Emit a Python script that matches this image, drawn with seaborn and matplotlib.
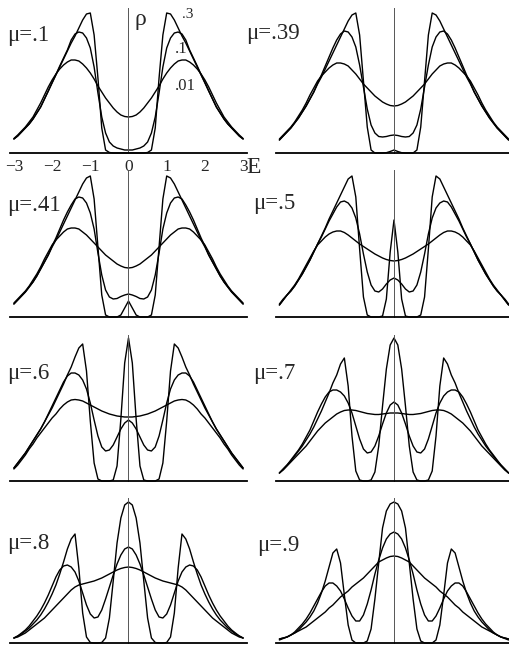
import numpy as np
import pandas as pd
import matplotlib
matplotlib.use("Agg")
import matplotlib.pyplot as plt
import seaborn as sns

sns.set_style("white")
plt.rcParams["font.family"] = ["Liberation Serif", "DejaVu Serif"]

# Energy grid for the half range E >= 0 (curves are symmetric in E)
E_half = [0.0, 0.1, 0.2, 0.3, 0.4, 0.5, 0.6, 0.7, 0.8, 0.9, 1.0,
          1.1, 1.2, 1.3, 1.4, 1.5, 1.6, 1.7, 1.8, 1.9, 2.0,
          2.1, 2.2, 2.3, 2.4, 2.5, 2.6, 2.7, 2.8, 2.9, 3.0]

mu_labels = [".1", ".39", ".41", ".5", ".6", ".7", ".8", ".9"]
curve_labels = [".3", ".1", ".01"]

# density of states rho(E) (arbitrary units), one list per mu and curve
rho_mu010_p3 = [0, 0, 0, 0, 0, 0.5, 3, 25, 75, 118, 140, 139, 133, 125, 117, 110, 102, 94, 86, 78, 70, 62, 54, 46, 40, 34, 29, 25, 21, 17, 14]
rho_mu010_p1 = [3, 3, 4, 5, 7, 11, 20, 36, 60, 86, 105, 115, 120, 121, 119, 113, 103, 95, 87, 78.5, 70.5, 62, 54, 46, 40, 34, 29, 25, 21, 17, 14]
rho_mu010_p01 = [36, 36.5, 38, 41, 45, 50, 55, 61, 67, 74, 80, 85, 89, 92, 93, 93, 91, 88, 84, 79, 73, 66, 58, 50, 43, 36, 31, 26, 22, 18, 14.5]

rho_mu039_p3 = [3, 1.5, 0.3, 0, 0, 0, 3, 26, 72, 118, 140, 138, 132, 124, 116, 108, 100, 92, 84, 76, 69, 61, 54, 47, 41, 35, 30, 25, 21, 17, 13]
rho_mu039_p1 = [18, 17.5, 16.5, 16, 16.5, 20, 28, 44, 66, 88, 106, 116, 121, 122, 119, 113, 105, 96, 87, 78, 70, 61, 54, 47, 41, 35, 30, 25, 21, 17, 13]
rho_mu039_p01 = [47, 47.5, 49, 51, 54, 57, 61, 65, 69, 74, 79, 83, 87, 89, 90, 90, 88, 85, 81, 77, 72, 65, 58, 50, 43, 37, 31, 26, 22, 18, 14]

rho_mu041_p3 = [16, 9, 2, 0, 0, 0, 2, 22, 70, 118, 141, 139, 133, 125, 117, 109, 101, 93, 85, 77, 70, 62, 55, 48, 41, 35, 30, 25, 21, 17, 13]
rho_mu041_p1 = [23, 22, 20.5, 18.5, 18, 20, 27, 42, 64, 88, 104, 114, 119, 120, 118, 112, 105, 97, 88, 79, 71, 62, 55, 48, 41, 35, 30, 25, 21, 17, 13]
rho_mu041_p01 = [49, 49.5, 51, 53, 56, 59, 62, 66, 70, 74, 78, 82, 85, 88, 89, 89, 88, 85, 81, 77, 72, 65, 58, 50, 43, 37, 31, 26, 22, 18, 14]

rho_mu050_p3 = [97, 65, 18, 1, 0, 0, 0, 2, 20, 68, 120, 141, 138, 130, 122, 114, 106, 98, 89, 81, 73, 65, 57, 50, 43, 37, 31, 26, 22, 17, 12]
rho_mu050_p1 = [39, 37, 33, 28, 25, 26, 32, 45, 63, 83, 99, 109, 114, 116, 115, 110, 103, 96, 88, 80, 73, 65, 57, 50, 43, 37, 31, 26, 22, 17, 12]
rho_mu050_p01 = [56, 56.5, 57.5, 59, 61, 63, 65.5, 68, 70.5, 73, 76, 79, 82, 84.5, 86, 86, 85, 83, 80, 76, 72, 66, 59, 52, 45, 38, 32, 27, 22, 18, 13]

rho_mu060_p3 = [143, 118, 62, 15, 1, 0, 0, 0, 2, 18, 60, 110, 137, 133, 124, 114, 106, 97, 89, 81, 73, 66, 59, 52, 46, 40, 34, 28, 23, 18, 13]
rho_mu060_p1 = [61, 58, 52, 44, 36, 31, 30, 34, 45, 61, 78, 92, 101, 106, 108, 108, 105, 99, 91, 83, 75, 67, 59, 52, 46, 40, 34, 28, 23, 18, 13]
rho_mu060_p01 = [64, 64, 64.5, 65, 66, 67, 68.5, 70, 72, 74, 76, 78, 80, 81, 81.5, 81, 79, 76, 72, 67, 63, 58, 53, 48, 43, 37, 32, 26, 21, 16, 12]

rho_mu070_p3 = [143, 136, 112, 75, 35, 9, 1, 0, 0, 1, 10, 45, 95, 123, 117, 106, 98, 88, 79, 70, 62, 54, 47, 41, 35, 30, 25, 20, 16, 12, 8]
rho_mu070_p1 = [79, 76, 68, 57, 45, 35, 29, 28, 32, 42, 55, 68, 78, 85, 89, 91, 91, 89, 84, 77, 69, 60, 51, 44, 37, 31, 26, 21, 16, 12, 8]
rho_mu070_p01 = [68, 68, 67.5, 67, 66.5, 66.5, 67, 67.5, 68.5, 69.5, 70.5, 71, 71, 70.5, 69, 67, 64, 61, 58, 54, 50, 45, 40, 35, 31, 27, 23, 19, 15, 11, 8]

rho_mu080_p3 = [141, 138, 125, 100, 62, 25, 5, 0.5, 0, 0, 0.5, 6, 30, 75, 109, 104, 94, 81, 69, 58, 49, 41, 34, 28, 23, 19, 15, 12, 9, 7, 5]
rho_mu080_p1 = [96, 94, 88, 79, 68, 56, 44, 33, 26, 25, 29, 38, 50, 62, 71, 76, 78, 77, 73, 66, 57, 48, 40, 33, 27, 22, 17, 13, 10, 7, 5]
rho_mu080_p01 = [76, 75.5, 74.5, 73, 71, 69, 67, 65, 63.5, 62, 61, 60, 59, 58, 56, 53, 49, 45, 41, 37, 33, 29, 25, 22, 19, 16, 13, 10, 8, 6, 5]

rho_mu090_p3 = [141, 139, 132, 115, 80, 44, 14, 2, 0, 0, 0, 3, 18, 48, 80, 94, 90, 76, 62, 50, 40, 32, 26, 21, 17, 13, 10, 8, 6, 5, 4]
rho_mu090_p1 = [111, 109, 104, 95, 83, 69, 53, 39, 28, 22, 22, 27, 35, 44, 52, 57, 60, 60, 57, 51, 44, 37, 30, 24, 19, 15, 11, 8, 6, 5, 4]
rho_mu090_p01 = [87, 86.5, 85, 83, 81, 77, 73, 69, 65, 62, 59, 56, 52, 49, 46, 42, 38, 35, 31, 28, 25, 22, 19, 16, 14, 12, 10, 8, 6, 4.5, 3]

panels = [
    (rho_mu010_p3, rho_mu010_p1, rho_mu010_p01),
    (rho_mu039_p3, rho_mu039_p1, rho_mu039_p01),
    (rho_mu041_p3, rho_mu041_p1, rho_mu041_p01),
    (rho_mu050_p3, rho_mu050_p1, rho_mu050_p01),
    (rho_mu060_p3, rho_mu060_p1, rho_mu060_p01),
    (rho_mu070_p3, rho_mu070_p1, rho_mu070_p01),
    (rho_mu080_p3, rho_mu080_p1, rho_mu080_p01),
    (rho_mu090_p3, rho_mu090_p1, rho_mu090_p01),
]


def full_curve(half):
    """Mirror a half curve (E >= 0) onto the full symmetric range."""
    e = [-x for x in E_half[:0:-1]] + E_half
    r = list(half[:0:-1]) + list(half)
    return e, r


# ---- layout (figure pixels) ----
W, H = 510, 649
PX_PER_E = 38.2
col_zero = [128.5, 394.0]
row_base = [153, 317, 481, 643]
row_top = [8, 170, 335, 498]
row_ytick = [36.7, 36.7, 28.0, 28.0]
XLIM = (-3.15, 3.15)
YLO = -3.0

fig = plt.figure(figsize=(W / 100, H / 100), dpi=100)

label_pos = [(7, 35), (246, 34), (7, 205), (253, 203),
             (7, 373), (253, 374), (7, 543), (257, 546)]

for i, curves in enumerate(panels):
    r, c = divmod(i, 2)
    ymax = row_base[r] - row_top[r]
    left = col_zero[c] + XLIM[0] * PX_PER_E
    width = (XLIM[1] - XLIM[0]) * PX_PER_E
    bottom_px = row_base[r] - YLO
    ax = fig.add_axes([left / W, (H - bottom_px) / H, width / W, (ymax - YLO) / H])
    ax.patch.set_visible(False)

    frames = []
    for lab, half in zip(curve_labels, curves):
        e, rho = full_curve(half)
        frames.append(pd.DataFrame({"E": e, "rho": rho, "curve": lab}))
    df = pd.concat(frames, ignore_index=True)
    sns.lineplot(data=df, x="E", y="rho", units="curve", estimator=None,
                 color="black", lw=1.0, ax=ax, legend=False)

    ax.set_xlim(*XLIM)
    ax.set_ylim(YLO, ymax)
    ax.set_xlabel("")
    ax.set_ylabel("")
    for s in ("top", "right"):
        ax.spines[s].set_visible(False)
    ax.spines["bottom"].set_position(("data", 0))
    ax.spines["bottom"].set_bounds(-3.1, 3.1)
    ax.spines["bottom"].set_linewidth(1.3)
    ax.spines["bottom"].set_color("black")
    ax.spines["left"].set_position(("data", 0))
    ax.spines["left"].set_bounds(0, ymax)
    ax.spines["left"].set_linewidth(0.7)
    ax.spines["left"].set_color("#555555")

    ax.set_xticks([-3, -2, -1, 0, 1, 2, 3])
    step = row_ytick[r]
    ax.set_yticks([k * step for k in range(1, int(ymax // step) + 1)])
    ax.tick_params(axis="x", direction="in", length=3, width=0.7, color="black")
    ax.tick_params(axis="y", direction="in", length=3, width=0.6, color="#555555",
                   labelleft=False)
    if i == 0:
        ax.set_xticklabels(["\u22123", "\u22122", "\u22121", "0", "1", "2", "3"])
        ax.tick_params(axis="x", pad=4.5, labelsize=12.5)
    else:
        ax.tick_params(axis="x", labelbottom=False)

    lx, ly = label_pos[i]
    fig.text(lx / W, 1 - ly / H, "\u03bc=" + mu_labels[i], fontsize=16.5,
             ha="left", va="center")

# axis names and curve labels of the first panel
fig.text(246 / W, 1 - 167 / H, "E", fontsize=17, ha="left", va="center")
fig.text(134 / W, 1 - 19 / H, "\u03c1", fontsize=17, ha="left", va="center")
fig.text(182 / W, 1 - 14 / H, curve_labels[0], fontsize=11, ha="left", va="center")
fig.text(175 / W, 1 - 49 / H, curve_labels[1], fontsize=12, ha="left", va="center")
fig.text(175 / W, 1 - 86 / H, curve_labels[2], fontsize=12, ha="left", va="center")

fig.savefig("out.png", dpi=100)
